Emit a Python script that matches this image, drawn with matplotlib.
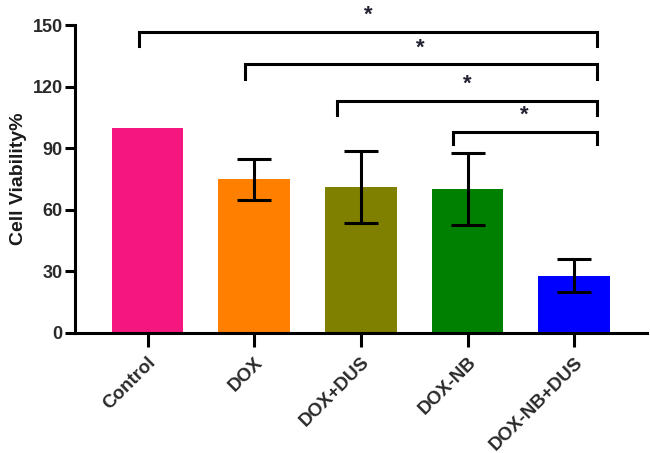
import matplotlib
matplotlib.use("Agg")
import matplotlib.pyplot as plt

categories = ["Control", "DOX", "DOX+DUS", "DOX-NB", "DOX-NB+DUS"]
viability = [100, 75, 71, 70, 28]
errors = [0, 10, 17.5, 17.6, 8]
colors = ["#F5167F", "#FF8000", "#808000", "#008000", "#0000FF"]

# significance brackets: (left x, right x, bar height, leg bottom, label)
brackets = [
    (-0.08, 4.21, 146.6, 140.0, "*"),
    (0.91, 4.21, 130.9, 124.0, "*"),
    (1.78, 4.21, 113.2, 106.2, "*"),
    (2.86, 4.21, 97.8, 91.9, "*"),
]
yticks = [0, 30, 60, 90, 120, 150]

plt.rcParams['font.family'] = ['Liberation Sans', 'DejaVu Sans']
fig = plt.figure(figsize=(6.5, 4.53), dpi=100)
ax = fig.add_axes([0.1154, 0.265, 0.8796, 0.6794])

x = list(range(len(categories)))
ax.bar(x, viability, width=0.67, color=colors, zorder=2)
for xi, v, e in zip(x, viability, errors):
    if e > 0:
        ax.errorbar(xi, v, yerr=e, fmt='none', ecolor='black', elinewidth=2.2,
                    capsize=12.5, capthick=2.2, zorder=3)

for x0, x1, h, lb, lab in brackets:
    ax.plot([x0, x0, x1, x1], [lb, h, h, lb], color='black', lw=2.2,
            solid_joinstyle='miter', clip_on=False, zorder=4)
    ax.text((x0 + x1) / 2, h + 3.0, lab, ha='center', va='bottom',
            fontsize=16, fontweight='bold', color='#222233', clip_on=False)

ax.set_xlim(-0.68, 4.68)
ax.set_ylim(0, 150)
ax.set_yticks(yticks)
ax.set_xticks(x)
ax.set_xticklabels(categories, rotation=45, ha='right', va='top',
                   rotation_mode='anchor', fontsize=13.5, fontweight='bold',
                   color='#2a2a2a')
for lbl in ax.get_yticklabels():
    lbl.set_fontsize(13)
    lbl.set_fontweight('bold')
    lbl.set_color('#2a2a2a')
ax.tick_params(axis='y', length=7, width=2.2, pad=2)
ax.tick_params(axis='x', length=10, width=2.2, pad=5)
for s in ['top', 'right']:
    ax.spines[s].set_visible(False)
for s in ['left', 'bottom']:
    ax.spines[s].set_linewidth(2.2)
ax.set_ylabel("Cell Viability%", fontsize=14, fontweight='bold', color='#1a1a1a', labelpad=4)

fig.savefig("out.png", dpi=100)
